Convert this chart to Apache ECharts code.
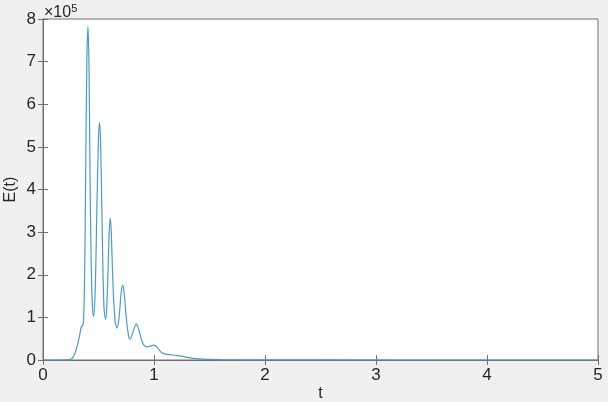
<!DOCTYPE html>
<html>
<head>
<meta charset="utf-8">
<script src="https://cdn.jsdelivr.net/npm/echarts@6/dist/echarts.min.js"></script>
<style>
  html, body { margin: 0; padding: 0; background: #f0f0f0; }
  #chart { width: 608px; height: 402px; }
</style>
</head>
<body>
<div id="chart"></div>
<script>
// time values t and energy E(t), E in units of 10^5
var tValues = [0, 0.1, 0.2, 0.24, 0.27, 0.3, 0.33, 0.345, 0.355, 0.365, 0.375, 0.385, 0.395, 0.405,
  0.415, 0.425, 0.44, 0.455, 0.47, 0.485, 0.5, 0.51, 0.52, 0.535, 0.55, 0.565, 0.58, 0.595, 0.605,
  0.615, 0.63, 0.65, 0.667, 0.685, 0.705, 0.718, 0.73, 0.75, 0.77, 0.785, 0.81, 0.84, 0.865, 0.89,
  0.92, 0.94, 0.97, 1.0, 1.03, 1.07, 1.12, 1.2, 1.25, 1.3, 1.35, 1.45, 1.6, 1.8, 2.5, 5];
var eValues = [0, 0, 0.002, 0.01, 0.06, 0.25, 0.58, 0.78, 0.8, 0.9, 2.0, 4.5, 7.0, 7.83,
  6.8, 4.0, 1.6, 1.02, 1.6, 3.5, 5.2, 5.57, 5.0, 2.8, 1.2, 0.96, 1.6, 2.9, 3.33,
  3.0, 1.8, 0.9, 0.75, 1.0, 1.6, 1.76, 1.6, 1.0, 0.58, 0.49, 0.65, 0.84, 0.7, 0.45,
  0.32, 0.31, 0.33, 0.35, 0.29, 0.17, 0.13, 0.11, 0.09, 0.06, 0.04, 0.02, 0.01, 0.004, 0.001, 0];
var xTicks = [0, 1, 2, 3, 4, 5];
var yTicks = [0, 1, 2, 3, 4, 5, 6, 7, 8];

var points = tValues.map(function (t, i) { return [t, eValues[i]]; });

var chart = echarts.init(document.getElementById('chart'));

var txt = '#262626';
var axisCol = '#707070';

var option = {
    backgroundColor: '#f0f0f0',
    animation: false,
    textStyle: { fontFamily: 'Liberation Sans, Arial, sans-serif' },
    grid: {
        left: 43, right: 10, top: 19, bottom: 42,
        outerBoundsMode: 'none', containLabel: false,
        show: true, backgroundColor: '#ffffff', borderColor: axisCol, borderWidth: 1
    },
    graphic: [{
        type: 'text', left: 44, top: 3,
        style: {
            text: '{a|×10}{b|5}',
            rich: {
                a: { fontSize: 16, fill: txt, fontFamily: 'Liberation Sans' },
                b: { fontSize: 11, fill: txt, fontFamily: 'Liberation Sans', verticalAlign: 'top', padding: [0, 0, 8, 0] }
            }
        }
    }],
    xAxis: [{
        type: 'value', min: xTicks[0], max: xTicks[xTicks.length - 1], interval: 1,
        name: 't', nameLocation: 'middle', nameGap: 26, nameMoveOverlap: false,
        nameTextStyle: { fontSize: 16, color: txt },
        axisLine: { lineStyle: { color: axisCol } },
        axisTick: { inside: true, length: 5, lineStyle: { color: axisCol } },
        axisLabel: { fontSize: 17, color: txt, margin: 7 },
        splitLine: { show: false }
    }, {
        type: 'value', position: 'top', min: 0, max: 5, interval: 1,
        axisLine: { lineStyle: { color: axisCol } },
        axisTick: { inside: true, length: 5, lineStyle: { color: axisCol } },
        axisLabel: { show: false }, splitLine: { show: false }
    }],
    yAxis: [{
        type: 'value', min: yTicks[0], max: yTicks[yTicks.length - 1], interval: 1,
        name: 'E(t)', nameLocation: 'middle', nameGap: 24, nameMoveOverlap: false,
        nameTextStyle: { fontSize: 16, color: txt },
        axisLine: { show: true, lineStyle: { color: axisCol } },
        axisTick: { show: true, inside: true, length: 5, lineStyle: { color: axisCol } },
        axisLabel: { fontSize: 17, color: txt, margin: 7 },
        splitLine: { show: false }
    }, {
        type: 'value', position: 'right', min: 0, max: 8, interval: 1,
        axisLine: { show: true, lineStyle: { color: axisCol } },
        axisTick: { show: true, inside: true, length: 5, lineStyle: { color: axisCol } },
        axisLabel: { show: false }, splitLine: { show: false }
    }],
    series: [{
        type: 'line',
        data: points,
        showSymbol: false,
        smooth: 0.35,
        lineStyle: { color: '#4a9ad4', width: 1.2 }
    }]
};

chart.setOption(option);
</script>
</body>
</html>
